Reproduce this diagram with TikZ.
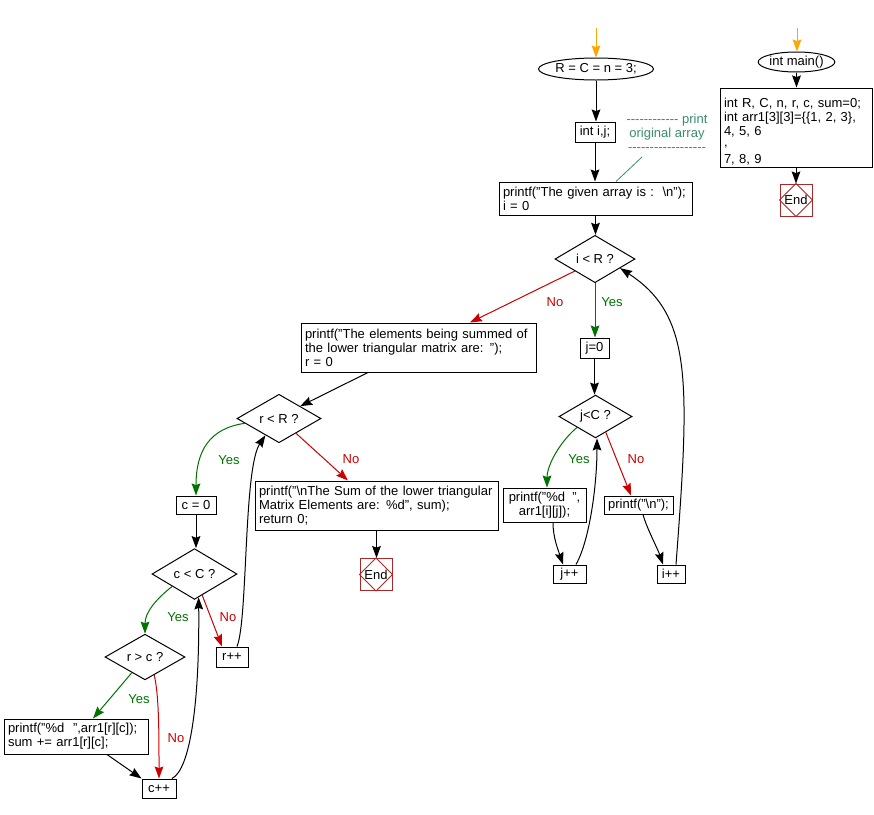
\documentclass[tikz,border=0pt]{standalone}
\usepackage{fontspec}
\setmainfont{Liberation Sans}
\usetikzlibrary{shapes.geometric,arrows.meta,calc}
\definecolor{ygreen}{RGB}{0,115,0}
\definecolor{nred}{RGB}{204,0,0}
\definecolor{endred}{RGB}{170,40,40}
\definecolor{cmtcol}{RGB}{60,140,110}
\definecolor{startor}{RGB}{255,165,0}
\newcommand\dashchar{-{}}
\begin{document}
\begin{tikzpicture}[x=0.75pt,y=-0.75pt,
  every node/.style={font=\fontsize{9.75}{10.5}\selectfont, inner sep=0pt},
  bx/.style={draw, rectangle, line width=0.75pt, align=center},
  lbx/.style={draw, rectangle, line width=0.75pt, align=left, inner xsep=3pt},
  dia/.style={draw, diamond, line width=0.75pt},
  ell/.style={draw, ellipse, line width=0.75pt},
  endbox/.style={draw=endred, rectangle, line width=0.75pt, minimum width=24pt, minimum height=24pt},
  arrowhd/.style={-{Stealth[length=9pt,width=6.5pt,inset=1.2pt]}},
  flow/.style={arrowhd, line width=0.75pt},
  yesln/.style={flow, ygreen},
  noln/.style={flow, nred},
  startarr/.style={flow, startor},
  yeslab/.style={text=ygreen},
  nolab/.style={text=nred},
  enddia/.style={draw=endred, line width=0.75pt},
]
\path[fill=white] (0,0) rectangle (874,814);
\useasboundingbox (0,0) rectangle (874,814);

% ---------- main column ----------
\node[ell, minimum width=75pt, minimum height=16.5pt] (ell1) at (596,69) {R = C = n = 3;};
\node[bx, minimum width=30pt, minimum height=15pt] (intij) at (595,132) {int i,j;};
\node[text=cmtcol, align=center] (cmt) at (667,133)
  {\dashchar\dashchar\dashchar\dashchar\dashchar\dashchar\dashchar\dashchar\dashchar\dashchar\dashchar\dashchar\ print\\
   original array\\
   \dashchar\dashchar\dashchar\dashchar\dashchar\dashchar\dashchar\dashchar\dashchar\dashchar\dashchar\dashchar\dashchar\dashchar\dashchar\dashchar\dashchar\dashchar};
\node[lbx, minimum width=144.75pt, minimum height=24.75pt, text width=138.75pt] (given) at (595.5,198.5)
  {printf("The given array is :\ \ \textbackslash n");\\ i = 0};
\node[dia, minimum width=60pt, minimum height=28.5pt] (iR) at (595,259) {i < R ?};
\node[bx, minimum width=21.75pt, minimum height=15pt] (j0) at (594.5,348) {j=0};
\node[dia, minimum width=54.75pt, minimum height=29.25pt] (jC) at (595.5,416.5) {j<C ?};
\node[bx, minimum width=62.25pt, minimum height=25.5pt] (pd1) at (544.5,505) {printf("\%d\ \ ",\\ arr1[i][j]);};
\node[bx, minimum width=51.75pt, minimum height=13.5pt] (pn) at (638.5,505) {printf("\textbackslash n");};
\node[bx, minimum width=24.75pt, minimum height=13.5pt] (jpp) at (569.5,574) {j++};
\node[bx, minimum width=21pt, minimum height=13.5pt] (ipp) at (671,574) {i++};

% ---------- left part ----------
\node[lbx, minimum width=176.25pt, minimum height=36.75pt, text width=170.25pt] (sum1) at (418.5,347.5)
  {printf("The elements being summed of\\ the lower triangular matrix are: ");\\ r = 0};
\node[dia, minimum width=63pt, minimum height=27.75pt] (rR) at (279,418.5) {r < R ?};
\node[bx, minimum width=30pt, minimum height=13.5pt] (c0) at (196,505) {c = 0};
\node[dia, minimum width=63.75pt, minimum height=30pt] (cC) at (194.5,574) {c < C ?};
\node[dia, minimum width=60pt, minimum height=30pt] (rc) at (145,657) {r > c ?};
\node[bx, minimum width=24pt, minimum height=15pt] (rpp) at (232,657) {r++};
\node[lbx, minimum width=108pt, minimum height=26.25pt, text width=102pt] (pd2) at (76,736.5)
  {printf("\%d\ \ ",arr1[r][c]);\\ sum += arr1[r][c];};
\node[bx, minimum width=25.5pt, minimum height=14.25pt] (cpp) at (159,788.5) {c++};
\node[lbx, minimum width=182.25pt, minimum height=36.75pt, text width=176.25pt] (fin) at (376.5,505.5)
  {printf("\textbackslash nThe Sum of the lower triangular\\ Matrix Elements are: \%d", sum);\\ return 0;};
\node[endbox] (end1) at (376,574.5) {End};
\draw[enddia] (end1.north) -- (end1.east) -- (end1.south) -- (end1.west) -- cycle;

% ---------- right part ----------
\node[ell, minimum width=53.25pt, minimum height=15pt] (ell2) at (796.5,62) {int main()};
\node[lbx, minimum width=114pt, minimum height=59.25pt, text width=108pt] (decl) at (796,127.5)
  {\rule{0pt}{13pt}int R, C, n, r, c, sum=0;\\ int arr1[3][3]=\{\{1, 2, 3\},\\ 4, 5, 6\\[-2.25pt] ,\\[2.25pt] 7, 8, 9};
\node[endbox] (end2) at (796,200) {End};
\draw[enddia] (end2.north) -- (end2.east) -- (end2.south) -- (end2.west) -- cycle;

% ---------- labels ----------
\node[nolab] (lno1) at (555,302) {No};
\node[yeslab] (lyes1) at (612,302) {Yes};
\node[yeslab] (lyes2) at (579,459) {Yes};
\node[nolab] (lno2) at (636,459) {No};
\node[yeslab] (lyes3) at (229,460) {Yes};
\node[nolab] (lno3) at (351,459) {No};
\node[yeslab] (lyes4) at (178,617) {Yes};
\node[nolab] (lno4) at (228,617) {No};
\node[yeslab] (lyes5) at (139,699) {Yes};
\node[nolab] (lno5) at (176,738) {No};

% ---------- connectors ----------
\coordinate (s1) at (596,28);
\coordinate (s2) at (797,28);
\coordinate (cmtpt) at (642,157);
\draw[startarr] (s1) -- (s1 |- ell1.north);
\draw[startarr] (s2) -- (s2 |- ell2.north);
\draw[cmtcol, line width=0.6pt] (cmtpt) -- ($(given.north)+(20.5,0)$);

\draw[flow] (ell1.south) -- (ell1.south |- intij.north);
\draw[flow] (intij.south) -- (intij.south |- given.north);
\draw[flow] (given.south) -- (given.south |- iR.north);
\draw[yesln] (iR.south) -- (iR.south |- j0.north);
\draw[noln] (iR.south west) -- ($(sum1.north)+(51.5,0)$);
\draw[flow] (j0.south) -- (j0.south |- jC.north);
\draw[yesln] (jC.south west) .. controls +(-17,14) and +(0,-22) .. ($(pd1.north)+(2.5,0)$);
\draw[noln] (jC.-57) -- ($(pn.north)+(-7.5,0)$);
\draw[flow] ($(pd1.south)+(8.5,0)$) .. controls +(0,15) and +(-5,-15) .. ($(jpp.north)+(-6.5,0)$);
\draw[flow] ($(pn.south)+(4.5,0)$) .. controls +(3,12) and +(-5,-15) .. ($(ipp.north)+(-8,0)$);
\draw[flow] ($(jpp.north)+(6.5,0)$) .. controls +(14,-25) and +(0,45) .. ($(jC.south)+(1.5,0)$);
\draw[flow] ($(ipp.north)+(5,0)$) .. controls +(14,-185) and +(72,47) .. (iR.-20);

\draw[flow] ($(sum1.south)+(-50.5,0)$) -- (rR.north east);
\draw[yesln] (rR.-172) .. controls +(-35,5) and +(0,-45) .. (c0.north);
\draw[noln] (rR.-41) -- ($(fin.north)+(-28.5,0)$);
\draw[flow] (fin.south) -- (fin.south |- end1.north);
\draw[flow] (c0.south) -- (c0.south |- cC.north);
\draw[yesln] (cC.-151) .. controls +(-15,12) and +(0,-22) .. (rc.north);
\draw[noln] (cC.-70) -- ($(rpp.north)+(-10,0)$);
\draw[flow] ($(rpp.north)+(5,0)$) .. controls +(11,-27) and +(-22,33) .. (rR.-129);
\draw[yesln] (rc.-130) -- ($(pd2.north)+(17,0)$);
\draw[noln] (rc.-63) .. controls +(5,20) and +(0,-40) .. (cpp.north);
\draw[flow] ($(pd2.south)+(31,0)$) -- (cpp.north west);
\draw[flow] ($(cpp.north)+(13,0)$) .. controls +(18,-9) and +(1,107) .. (cC.-80);

\draw[flow] (ell2.south) -- (ell2.south |- decl.north);
\draw[flow] (decl.south) -- (decl.south |- end2.north);
\end{tikzpicture}
\end{document}
